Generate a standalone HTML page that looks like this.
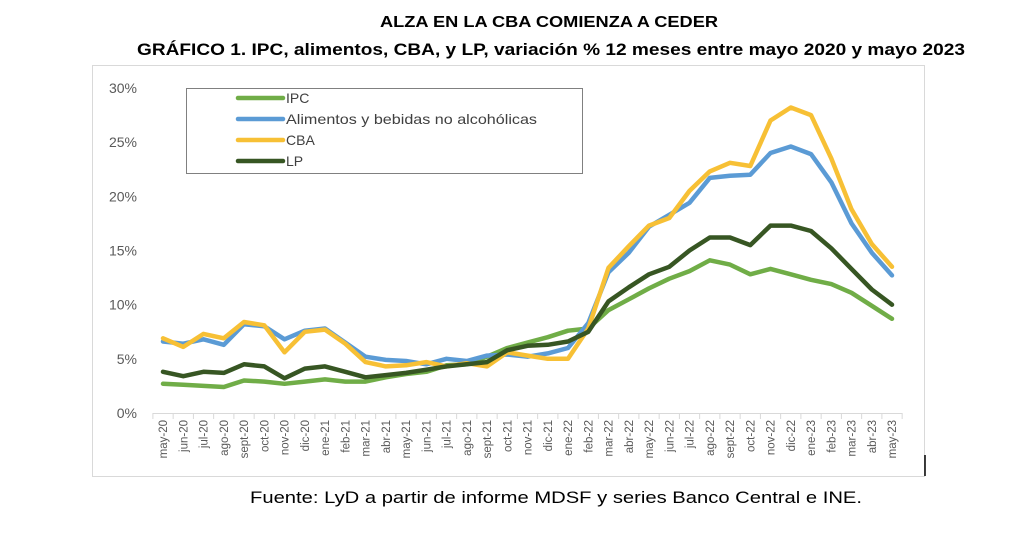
<!DOCTYPE html>
<html><head><meta charset="utf-8"><style>
html,body{margin:0;padding:0;background:#fff;width:1024px;height:549px;overflow:hidden}
svg{display:block}
</style></head><body>
<svg id="s" width="1024" height="549" xmlns="http://www.w3.org/2000/svg" font-family="Liberation Sans, sans-serif">
<text x="549" y="27" text-anchor="middle" font-weight="bold" font-size="16" textLength="338" lengthAdjust="spacingAndGlyphs">ALZA EN LA CBA COMIENZA A CEDER</text>
<text x="551" y="55" text-anchor="middle" font-weight="bold" font-size="17" textLength="828" lengthAdjust="spacingAndGlyphs">GRÁFICO 1. IPC, alimentos, CBA, y LP, variación % 12 meses entre mayo 2020 y mayo 2023</text>
<rect x="92.5" y="65.5" width="832" height="411" fill="none" stroke="#d9d9d9" stroke-width="1"/>
<line x1="925" y1="455" x2="925" y2="476" stroke="#000" stroke-width="1.5"/>
<g id="yl" font-size="14" fill="#595959" text-anchor="end"></g>
<line x1="153" y1="413.5" x2="902" y2="413.5" stroke="#d9d9d9" stroke-width="1"/>
<g id="tk" stroke="#d9d9d9" stroke-width="1"></g>
<g id="xl" font-size="11.5" fill="#595959"></g>
<g id="ln" fill="none" stroke-width="4.5" stroke-linejoin="round" stroke-linecap="round"></g>
<rect x="186.5" y="88.5" width="396" height="85" fill="#fff" stroke="#808080" stroke-width="1"/>
<g stroke-width="4.5" stroke-linecap="round">
<line x1="238" y1="98" x2="283" y2="98" stroke="#70ad47"/>
<line x1="238" y1="119" x2="283" y2="119" stroke="#5b9bd5"/>
<line x1="238" y1="140" x2="283" y2="140" stroke="#f7c035"/>
<line x1="238" y1="161" x2="283" y2="161" stroke="#375623"/>
</g>
<g font-size="14" fill="#404040">
<text x="286" y="103">IPC</text>
<text x="286" y="124" textLength="251" lengthAdjust="spacingAndGlyphs">Alimentos y bebidas no alcohólicas</text>
<text x="286" y="145">CBA</text>
<text x="286" y="166">LP</text>
</g>
<text x="556" y="503" text-anchor="middle" font-size="17" fill="#000" textLength="612" lengthAdjust="spacingAndGlyphs">Fuente: LyD a partir de informe MDSF y series Banco Central e INE.</text>
</svg>
<script>
var NS="http://www.w3.org/2000/svg";
function el(t,a,p,txt){var e=document.createElementNS(NS,t);for(var k in a)e.setAttribute(k,a[k]);if(txt)e.textContent=txt;document.getElementById(p).appendChild(e);}
for(var i=0;i<=6;i++){el("text",{x:137,y:413-i*54.17+5},"yl",(i*5)+"%");}
var m=["may","jun","jul","ago","sept","oct","nov","dic","ene","feb","mar","abr"];
var X=function(i){return 163+i*20.25;};
for(var i=0;i<37;i++){
 var mi=i%12, yr=20+Math.floor((i+4)/12);
 var lab=m[mi]+"-"+yr;
 el("text",{x:0,y:0,transform:"translate("+(X(i)+4)+",420) rotate(-90)","text-anchor":"end"},"xl",lab);
}
for(var i=0;i<=37;i++){var x=X(i)-10.1;el("line",{x1:x,y1:413,x2:x,y2:419},"tk");}
var Y=function(v){return 413-v*10.833;};
var S=[
["#70ad47",[2.7,2.6,2.5,2.4,3.0,2.9,2.7,2.9,3.1,2.9,2.9,3.3,3.6,3.8,4.4,4.5,5.2,6.0,6.5,7.0,7.6,7.8,9.5,10.5,11.5,12.4,13.1,14.1,13.7,12.8,13.3,12.8,12.3,11.9,11.1,9.9,8.7]],
["#5b9bd5",[6.6,6.4,6.8,6.3,8.2,8.0,6.8,7.6,7.8,6.5,5.2,4.9,4.8,4.5,5.0,4.8,5.3,5.4,5.2,5.5,6.0,8.3,13.0,14.8,17.2,18.3,19.4,21.7,21.9,22.0,24.0,24.6,23.9,21.3,17.5,14.8,12.7]],
["#f7c035",[6.9,6.1,7.3,6.9,8.4,8.1,5.6,7.5,7.7,6.4,4.7,4.3,4.4,4.7,4.3,4.6,4.3,5.6,5.3,5.0,5.0,7.8,13.4,15.4,17.3,18.0,20.5,22.3,23.1,22.8,27.0,28.2,27.5,23.5,18.8,15.6,13.5]],
["#375623",[3.8,3.4,3.8,3.7,4.5,4.3,3.2,4.1,4.3,3.8,3.3,3.5,3.7,4.0,4.3,4.5,4.7,5.8,6.2,6.3,6.6,7.5,10.3,11.6,12.8,13.5,15.0,16.2,16.2,15.5,17.3,17.3,16.8,15.2,13.3,11.4,10.0]]];
S.forEach(function(s){var p=s[1].map(function(v,i){return X(i).toFixed(1)+","+Y(v).toFixed(1);}).join(" ");el("polyline",{points:p,stroke:s[0]},"ln");});
</script>
</body></html>
